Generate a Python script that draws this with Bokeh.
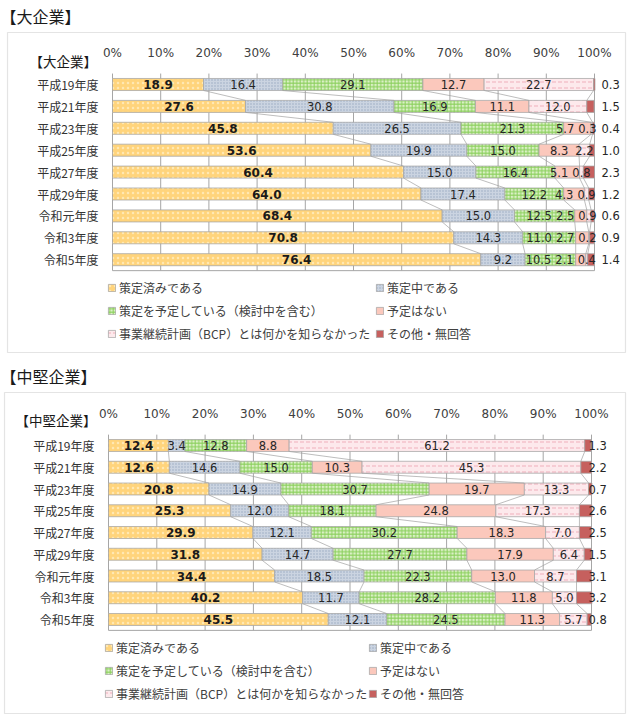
import numpy as np
from bokeh.plotting import figure
from bokeh.layouts import column
from bokeh.models import (ColumnDataSource, Range1d, Legend, LegendItem, Label, BoxAnnotation)
from bokeh.core.properties import value
from bokeh.embed import file_html
from bokeh.resources import INLINE

# ---------------- data ----------------
years = ["平成19年度", "平成21年度", "平成23年度", "平成25年度", "平成27年度",
         "平成29年度", "令和元年度", "令和3年度", "令和5年度"]
series_names = ["策定済みである", "策定中である", "策定を予定している（検討中を含む）",
                "予定はない", "事業継続計画（BCP）とは何かを知らなかった", "その他・無回答"]

large_done = [18.9, 27.6, 45.8, 53.6, 60.4, 64.0, 68.4, 70.8, 76.4]
large_in_progress = [16.4, 30.8, 26.5, 19.9, 15.0, 17.4, 15.0, 14.3, 9.2]
large_planned = [29.1, 16.9, 21.3, 15.0, 16.4, 12.2, 12.5, 11.0, 10.5]
large_no_plan = [12.7, 11.1, 5.7, 8.3, 5.1, 4.3, 2.5, 2.7, 2.1]
large_unaware = [22.7, 12.0, 0.3, 2.2, 0.8, 0.9, 0.9, 0.2, 0.4]
large_other = [0.3, 1.5, 0.4, 1.0, 2.3, 1.2, 0.6, 0.9, 1.4]

mid_done = [12.4, 12.6, 20.8, 25.3, 29.9, 31.8, 34.4, 40.2, 45.5]
mid_in_progress = [3.4, 14.6, 14.9, 12.0, 12.1, 14.7, 18.5, 11.7, 12.1]
mid_planned = [12.8, 15.0, 30.7, 18.1, 30.2, 27.7, 22.3, 28.2, 24.5]
mid_no_plan = [8.8, 10.3, 19.7, 24.8, 18.3, 17.9, 13.0, 11.8, 11.3]
mid_unaware = [61.2, 45.3, 13.3, 17.3, 7.0, 6.4, 8.7, 5.0, 5.7]
mid_other = [1.3, 2.2, 0.7, 2.6, 2.5, 1.5, 3.1, 3.2, 0.8]

tick_values = [0, 10, 20, 30, 40, 50, 60, 70, 80, 90, 100]
tick_labels = ["0%", "10%", "20%", "30%", "40%", "50%", "60%", "70%", "80%", "90%", "100%"]

# ---------------- styles ----------------
STYLES = [
    dict(fill_color="#FFD47C", hatch_pattern=".", hatch_color="#FFE8B4", hatch_scale=5, hatch_weight=1),
    dict(fill_color="#CBD4E1", hatch_pattern=".", hatch_color="#98A9C1", hatch_scale=3, hatch_weight=1),
    dict(fill_color="#DBF0C6", hatch_pattern="+", hatch_color="#8AD05C", hatch_scale=3.5, hatch_weight=1),
    dict(fill_color="#FBC8BC"),
    dict(fill_color="#FDE9EC", hatch_pattern='"', hatch_color="#EFAFBB", hatch_scale=6, hatch_weight=1),
    dict(fill_color="#C6605E"),
]
JP = "Noto Sans CJK JP"
NUM = "DejaVu Sans"
GRAY = "#A6A6A6"
W, H = 635, 360
BAR_H = 0.55


def text_w(s, bold):
    return sum((8.35 if bold else 7.3) if c.isdigit() else (4.6 if bold else 3.7) for c in s)


def build(heading, inner, series, g):
    fl, p100, row0, pitch = g["fl"], g["p100"], g["row0"], g["pitch"]
    ppu = (p100 - fl) / 100.0

    def X(px):
        return (px - fl) / ppu

    def Y(py):
        return (py - row0) / pitch

    p = figure(width=W, height=H, output_backend="svg", toolbar_location=None,
               x_range=Range1d(X(0), X(W)), y_range=Range1d(Y(H), Y(0)),
               x_axis_type=None, y_axis_type=None, min_border=0)
    p.outline_line_color = None
    p.background_fill_color = "white"
    p.border_fill_color = "white"

    n = len(years)
    rows = list(range(n))

    # box
    bl, bt, br, bb = g["box"]
    p.add_layout(BoxAnnotation(left=X(bl), right=X(br), top=Y(bt), bottom=Y(bb),
                               fill_alpha=0, line_color=GRAY, line_width=1.2, level="underlay"))

    # vertical gridlines + bottom line
    p.segment(x0=tick_values, y0=[-0.5] * len(tick_values), x1=tick_values,
              y1=[n - 0.5] * len(tick_values), line_color=GRAY, line_width=1)
    p.segment(x0=[0], y0=[n - 0.5], x1=[100], y1=[n - 0.5], line_color=GRAY, line_width=1)

    # tick labels (top) and category labels (left)
    p.text(x=tick_values, y=[Y(g["tick_y"])] * len(tick_values), text=tick_labels,
           text_align="center", text_baseline="middle", text_font=value(NUM),
           text_font_size=value("12px"), text_color="#404040")
    p.text(x=[X(fl - 14)] * n, y=rows, text=years, text_align="right", text_baseline="middle",
           text_font=value(JP), text_font_size=value("12px"), text_color="#333333")

    vals = np.array(series, dtype=float)
    cum = np.cumsum(vals, axis=0)
    left = cum - vals

    renderers = []
    for k in range(6):
        src = ColumnDataSource(dict(y=rows, left=left[k], right=cum[k]))
        r = p.hbar(y="y", left="left", right="right", height=BAR_H, source=src,
                   line_color=GRAY, line_width=0.75, **STYLES[k])
        renderers.append(r)

    # series lines
    sx0, sy0, sx1, sy1 = [], [], [], []
    for k in range(5):
        for i in range(n - 1):
            sx0.append(cum[k][i]); sy0.append(i + BAR_H / 2)
            sx1.append(cum[k][i + 1]); sy1.append(i + 1 - BAR_H / 2)
    p.segment(x0=sx0, y0=sy0, x1=sx1, y1=sy1, line_color="#A0A0A0", line_width=0.7)

    # data labels inside bars (with simple overlap avoidance)
    lab_x = [[0.0] * n for _ in range(5)]
    for i in range(n):
        limit = 100 * ppu + 2
        for k in range(4, -1, -1):
            s = f"{vals[k][i]:.1f}"
            w = text_w(s, k == 0)
            c = (left[k][i] + cum[k][i]) / 2 * ppu
            if c + w / 2 > limit:
                c = limit - w / 2
            limit = c - w / 2 - 4
            lab_x[k][i] = c / ppu
    for k in range(5):
        src = ColumnDataSource(dict(x=lab_x[k], y=rows, t=[f"{v:.1f}" for v in vals[k]]))
        p.text(x="x", y="y", text="t", source=src, text_align="center", text_baseline="middle",
               text_font=value(NUM), text_font_size=value("12px" if k == 0 else "11.5px"),
               text_font_style="bold" if k == 0 else "normal",
               text_color="#1A1A1A" if k == 0 else "#262626")
    src = ColumnDataSource(dict(x=[100 + g["other_off"] / ppu] * n, y=rows,
                                t=[f"{v:.1f}" for v in vals[5]]))
    p.text(x="x", y="y", text="t", source=src, text_align="left", text_baseline="middle",
           text_font=value(NUM), text_font_size=value("11.5px"), text_color="#262626")

    # legends (two columns)
    for col, ks in enumerate([(0, 2, 4), (1, 3, 5)]):
        leg = Legend(items=[LegendItem(label=series_names[k], renderers=[renderers[k]]) for k in ks],
                     location=(g["leg_x"][col], H - g["leg_bottom"]),
                     orientation="vertical", padding=0, margin=0, spacing=3,
                     border_line_color=None, background_fill_alpha=0,
                     glyph_width=9, glyph_height=9, label_standoff=3, label_height=20,
                     label_text_font=JP, label_text_font_size="12px", label_text_color="#404040")
        p.add_layout(leg)

    # headings
    p.add_layout(Label(x=X(g["head"][0]), y=Y(g["head"][1]), text=heading,
                       text_baseline="middle", text_font=JP,
                       text_font_size="16px", text_color="#1A1A1A"))
    p.add_layout(Label(x=X(g["inner"][0]), y=Y(g["inner"][1]), text=inner,
                       text_baseline="middle", text_font=JP,
                       text_font_size="13.5px", text_color="#1A1A1A"))
    return p


g_top = dict(fl=112, p100=594, row0=84, pitch=21.9, tick_y=52.5, box=(7, 32, 625, 352),
             head=(0, 15), inner=(29, 60), leg_x=(107, 375), leg_bottom=343, other_off=7)
g_mid = dict(fl=108, p100=591, row0=85, pitch=21.75, tick_y=53, box=(4, 32, 625, 353),
             head=(0, 15), inner=(15, 59.5), leg_x=(104, 368), leg_bottom=343, other_off=-3)

p1 = build("【大企業】", "【大企業】",
           [large_done, large_in_progress, large_planned, large_no_plan, large_unaware, large_other], g_top)
p2 = build("【中堅企業】", "【中堅企業】",
           [mid_done, mid_in_progress, mid_planned, mid_no_plan, mid_unaware, mid_other], g_mid)

layout = column(p1, p2, spacing=0)
open("out.html", "w").write(file_html(layout, INLINE))
